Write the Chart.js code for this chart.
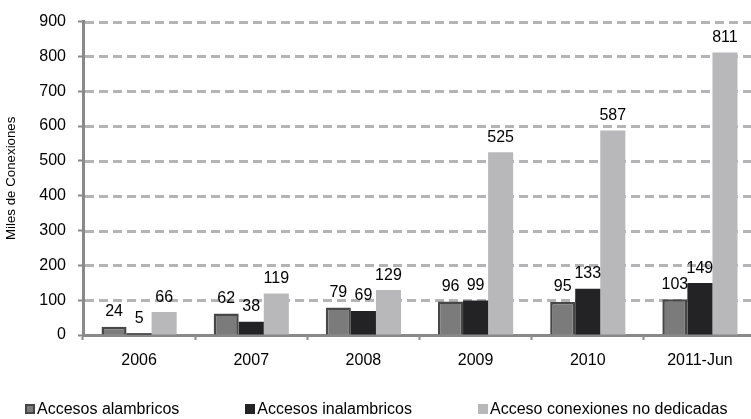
<!DOCTYPE html>
<html>
<head>
<meta charset="utf-8">
<script src="https://cdn.jsdelivr.net/npm/chart.js@4"></script>
<style>
  html, body { margin: 0; padding: 0; background: #fff; overflow: hidden; }
  #wrap { position: relative; width: 760px; height: 419px; }
  #leyenda {
    position: absolute; left: 25px; top: 400px;
    display: flex; font-family: "Liberation Sans", Arial, sans-serif;
    font-size: 16px; color: #000; white-space: nowrap;
  }
  #leyenda .item { display: flex; align-items: center; margin-right: 66px; }
  #leyenda .caja { display: inline-block; width: 10px; height: 10px; margin-right: 2px; box-sizing: border-box; }
</style>
</head>
<body>
<div id="wrap">
  <canvas id="grafico" width="760" height="419"></canvas>
  <div id="leyenda"></div>
</div>
<script>
// === Datos ===
const anios = ["2006", "2007", "2008", "2009", "2010", "2011-Jun"];
const alambricos = [24, 62, 79, 96, 95, 103];
const inalambricos = [5, 38, 69, 99, 133, 149];
const noDedicadas = [66, 119, 129, 525, 587, 811];
const ticksY = [0, 100, 200, 300, 400, 500, 600, 700, 800, 900];

const fuente = "'Liberation Sans', Arial, sans-serif";
const gris = "#898989";

// lineas de grilla punteadas (sobre las marcas de la escala y)
const grillaPunteada = {
  id: "grillaPunteada",
  beforeDatasetsDraw(chart) {
    const { ctx, chartArea, scales } = chart;
    ctx.save();
    ctx.strokeStyle = "#b4b4b6";
    ctx.lineWidth = 3;
    ctx.lineCap = "butt";
    ctx.setLineDash([9, 5]);
    scales.y.ticks.forEach(t => {
      if (t.value === 0) return;
      const y = Math.round(scales.y.getPixelForValue(t.value)) + 0.5;
      ctx.beginPath();
      ctx.moveTo(chartArea.left + 2, y);
      ctx.lineTo(chartArea.right, y);
      ctx.stroke();
    });
    ctx.restore();
  }
};

// etiquetas encima de cada barra
const etiquetasBarras = {
  id: "etiquetasBarras",
  afterDatasetsDraw(chart) {
    const ctx = chart.ctx;
    ctx.save();
    ctx.font = "16px " + fuente;
    ctx.fillStyle = "#000";
    ctx.textAlign = "center";
    ctx.textBaseline = "alphabetic";
    chart.data.datasets.forEach((ds, i) => {
      chart.getDatasetMeta(i).data.forEach((bar, j) => {
        ctx.fillText(String(ds.data[j]), bar.x, bar.y - 10.5);
      });
    });
    ctx.restore();
  }
};

const ctx = document.getElementById("grafico").getContext("2d");
const chart = new Chart(ctx, {
  type: "bar",
  data: {
    labels: anios,
    datasets: [
      {
        label: "Accesos alambricos",
        data: alambricos,
        backgroundColor: "#7b7b7c",
        borderColor: "#474748",
        borderWidth: 2.5,
        borderSkipped: "bottom"
      },
      {
        label: "Accesos inalambricos",
        data: inalambricos,
        backgroundColor: "#232326",
        borderWidth: 0
      },
      {
        label: "Acceso conexiones no dedicadas",
        data: noDedicadas,
        backgroundColor: "#b8b8ba",
        borderWidth: 0
      }
    ]
  },
  options: {
    responsive: false,
    animation: false,
    layout: { padding: { top: 14, right: 4, bottom: 0, left: 0 } },
    datasets: {
      bar: { categoryPercentage: 0.67, barPercentage: 1.0 }
    },
    plugins: {
      legend: { display: false },
      tooltip: { enabled: false }
    },
    scales: {
      x: {
        afterFit: (s) => { s.height = 84; },
        grid: {
          drawOnChartArea: false,
          drawTicks: true,
          tickLength: 5,
          tickColor: gris,
          tickWidth: 2,
          offset: true
        },
        border: { color: gris, width: 3 },
        ticks: {
          color: "#000",
          padding: 11,
          font: { family: fuente, size: 16 }
        }
      },
      y: {
        min: 0,
        max: 900,
        afterFit: (s) => { s.width = 83; },
        afterBuildTicks: (s) => { s.ticks = ticksY.map(v => ({ value: v })); },
        grid: {
          drawOnChartArea: false,
          drawTicks: true,
          tickLength: 5,
          tickColor: gris,
          tickWidth: 2
        },
        border: { color: gris, width: 3 },
        ticks: {
          color: "#000",
          padding: 12,
          font: { family: fuente, size: 16 }
        },
        title: {
          display: true,
          text: "Miles de Conexiones",
          color: "#000",
          padding: { top: 3, bottom: 0 },
          font: { family: fuente, size: 13.3 }
        }
      }
    }
  },
  plugins: [grillaPunteada, etiquetasBarras]
});

// === Leyenda personalizada ===
const leyenda = document.getElementById("leyenda");
chart.data.datasets.forEach((ds) => {
  const item = document.createElement("span");
  item.className = "item";
  const caja = document.createElement("span");
  caja.className = "caja";
  caja.style.background = ds.backgroundColor;
  if (ds.borderWidth) caja.style.border = "2px solid " + ds.borderColor;
  item.appendChild(caja);
  item.appendChild(document.createTextNode(ds.label));
  leyenda.appendChild(item);
});
</script>
</body>
</html>
